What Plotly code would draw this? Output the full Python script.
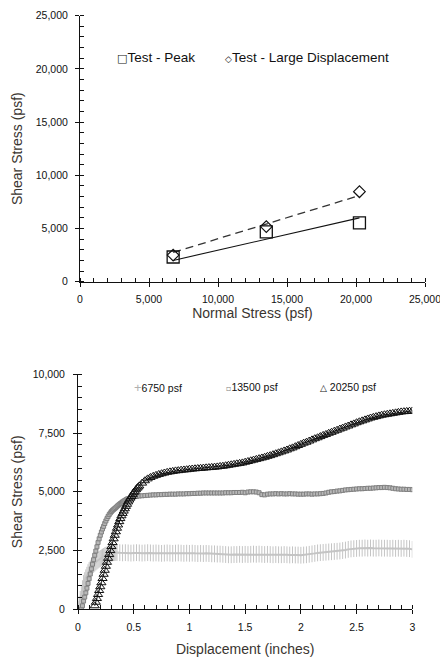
import plotly.graph_objects as go

# ---------------- Top chart data ----------------
NORMAL_STRESS = [6750, 13500, 20250]
PEAK_SHEAR = [2320, 4680, 5520]
LARGE_DISP_SHEAR = [2500, 5180, 8460]
FIT_X = [6750, 20250]
PEAK_FIT = [2000, 6000]          # fitted envelope at first/last normal stress
LARGE_DISP_FIT = [2750, 8100]

# ---------------- Bottom chart data ----------------
# coarse displacement stations (flat part of the curves)
DISP_COARSE = [
    0.375, 0.400, 0.425, 0.450, 0.475,
    0.500, 0.525, 0.550, 0.575, 0.600, 0.625, 0.650, 0.675, 0.700, 0.725,
    0.750, 0.775, 0.800, 0.825, 0.850, 0.875, 0.900, 0.925, 0.950, 0.975,
    1.000, 1.025, 1.050, 1.075, 1.100, 1.125, 1.150, 1.175, 1.200, 1.225,
    1.250, 1.275, 1.300, 1.325, 1.350, 1.375, 1.400, 1.425, 1.450, 1.475,
    1.500, 1.525, 1.550, 1.575, 1.600, 1.625, 1.650, 1.675, 1.700, 1.725,
    1.750, 1.775, 1.800, 1.825, 1.850, 1.875, 1.900, 1.925, 1.950, 1.975,
    2.000, 2.025, 2.050, 2.075, 2.100, 2.125, 2.150, 2.175, 2.200, 2.225,
    2.250, 2.275, 2.300, 2.325, 2.350, 2.375, 2.400, 2.425, 2.450, 2.475,
    2.500, 2.525, 2.550, 2.575, 2.600, 2.625, 2.650, 2.675, 2.700, 2.725,
    2.750, 2.775, 2.800, 2.825, 2.850, 2.875, 2.900, 2.925, 2.950, 2.975,
    3.000,
]

# 6750 psf
DISP_6750_RISE = [
    0.00, 0.01, 0.02, 0.03, 0.04, 0.05, 0.06, 0.07, 0.08, 0.09,
    0.10, 0.11, 0.12, 0.13, 0.14, 0.15, 0.16, 0.17, 0.18, 0.19,
    0.20, 0.21, 0.22, 0.23, 0.24, 0.25, 0.26, 0.27, 0.28, 0.29,
    0.30, 0.31, 0.32, 0.33, 0.34, 0.35,
]
SHEAR_6750_RISE = [
    0, 200, 420, 650, 880, 1100, 1220, 1340, 1450, 1560,
    1650, 1720, 1790, 1850, 1910, 1960, 2010, 2050, 2090, 2130,
    2160, 2190, 2220, 2250, 2280, 2300, 2320, 2340, 2360, 2370,
    2390, 2400, 2410, 2410, 2420, 2420,
]
SHEAR_6750_FLAT = [
    2410, 2400, 2410, 2400, 2390,
    2400, 2410, 2400, 2390, 2400, 2410, 2400, 2390, 2400, 2390,
    2380, 2390, 2400, 2390, 2380, 2390, 2400, 2390, 2380, 2390,
    2380, 2390, 2380, 2370, 2380, 2370, 2380, 2370, 2360, 2360,
    2350, 2350, 2340, 2330, 2320, 2320, 2330, 2330, 2340, 2330,
    2340, 2330, 2340, 2350, 2340, 2350, 2340, 2330, 2340, 2330,
    2320, 2330, 2320, 2320, 2330, 2320, 2310, 2320, 2310, 2310,
    2300, 2310, 2320, 2340, 2360, 2380, 2400, 2410, 2420, 2430,
    2440, 2450, 2460, 2470, 2480, 2500, 2520, 2550, 2570, 2580,
    2590, 2600, 2600, 2610, 2600, 2610, 2600, 2600, 2610, 2600,
    2600, 2600, 2590, 2600, 2590, 2600, 2590, 2600, 2590, 2580,
    2550,
]

# 13500 psf
DISP_13500_RISE = [
    0.03, 0.04, 0.05, 0.06, 0.07, 0.08, 0.09, 0.10, 0.11, 0.12,
    0.13, 0.14, 0.15, 0.16, 0.17, 0.18, 0.19, 0.20, 0.21, 0.22,
    0.23, 0.24, 0.25, 0.26, 0.27, 0.28, 0.29, 0.30, 0.31, 0.32,
    0.33, 0.34, 0.35, 0.36, 0.37, 0.38, 0.39, 0.40, 0.41, 0.42,
    0.43, 0.44, 0.45,
]
SHEAR_13500_RISE = [
    0, 150, 350, 520, 700, 900, 1100, 1300, 1500, 1720,
    1920, 2110, 2300, 2480, 2660, 2840, 3000, 3150, 3290, 3420,
    3530, 3650, 3760, 3860, 3950, 4030, 4100, 4160, 4210, 4250,
    4290, 4330, 4380, 4420, 4460, 4500, 4530, 4570, 4600, 4630,
    4660, 4690, 4700,
]
SHEAR_13500_FLAT = [   # from 0.475 in
    4740,
    4780, 4800, 4820, 4830, 4840, 4850, 4860, 4870, 4870, 4880,
    4880, 4890, 4890, 4900, 4900, 4900, 4910, 4910, 4910, 4920,
    4920, 4930, 4930, 4940, 4940, 4950, 4950, 4950, 4950, 4950,
    4950, 4950, 4950, 4960, 4960, 4960, 4970, 4970, 4970, 4980,
    4960, 4990, 5000, 5000, 4990, 4960, 4880, 4870, 4900, 4910,
    4910, 4920, 4910, 4920, 4910, 4910, 4920, 4910, 4910, 4900,
    4900, 4900, 4910, 4910, 4900, 4910, 4910, 4920, 4930, 4950,
    4980, 5000, 5010, 5030, 5040, 5060, 5080, 5090, 5100, 5110,
    5120, 5130, 5130, 5140, 5150, 5150, 5160, 5170, 5180, 5180,
    5190, 5180, 5170, 5150, 5130, 5120, 5110, 5110, 5100, 5100,
    5090,
]

# 20250 psf
DISP_20250_RISE = [
    0.15, 0.16, 0.17, 0.18, 0.19, 0.20, 0.21, 0.22, 0.23, 0.24,
    0.25, 0.26, 0.27, 0.28, 0.29, 0.30, 0.31, 0.32, 0.33, 0.34,
    0.35, 0.36, 0.37, 0.38, 0.39, 0.40, 0.41, 0.42, 0.43, 0.44,
    0.45, 0.46, 0.47, 0.48, 0.49, 0.50, 0.51, 0.52, 0.53, 0.54,
    0.55,
]
SHEAR_20250_RISE = [
    150, 300, 460, 630, 800, 960, 1130, 1310, 1490, 1660,
    1830, 2000, 2170, 2330, 2500, 2670, 2840, 3000, 3150, 3300,
    3450, 3590, 3730, 3860, 3980, 4080, 4180, 4280, 4380, 4470,
    4570, 4650, 4730, 4800, 4880, 4960, 5020, 5090, 5150, 5200,
    5250,
]
SHEAR_20250_FLAT = [   # from 0.575 in
    5370, 5470, 5550, 5610, 5660, 5700, 5740,
    5770, 5800, 5830, 5850, 5870, 5890, 5900, 5920, 5930, 5940,
    5960, 5970, 5980, 5990, 6000, 6010, 6020, 6030, 6040, 6050,
    6060, 6080, 6090, 6110, 6130, 6150, 6170, 6190, 6210, 6230,
    6260, 6290, 6320, 6350, 6380, 6410, 6440, 6470, 6510, 6540,
    6580, 6620, 6660, 6700, 6740, 6780, 6830, 6870, 6920, 6970,
    7020, 7070, 7110, 7160, 7210, 7260, 7300, 7350, 7400, 7440,
    7490, 7530, 7580, 7620, 7670, 7710, 7760, 7800, 7850, 7890,
    7940, 7980, 8020, 8060, 8100, 8140, 8170, 8200, 8230, 8260,
    8280, 8300, 8320, 8340, 8360, 8380, 8400, 8410, 8420, 8430,
    8440,
]

DISP_6750 = DISP_6750_RISE + DISP_COARSE
SHEAR_6750 = SHEAR_6750_RISE + SHEAR_6750_FLAT
DISP_13500 = DISP_13500_RISE + DISP_COARSE[4:]
SHEAR_13500 = SHEAR_13500_RISE + SHEAR_13500_FLAT
DISP_20250 = DISP_20250_RISE + DISP_COARSE[8:]
SHEAR_20250 = SHEAR_20250_RISE + SHEAR_20250_FLAT

for xs, ys in ((DISP_6750, SHEAR_6750), (DISP_13500, SHEAR_13500),
               (DISP_20250, SHEAR_20250)):
    if len(xs) != len(ys):
        raise ValueError("length mismatch %d vs %d" % (len(xs), len(ys)))

W, H = 440, 658
FONT = "Liberation Sans, Arial, sans-serif"
TICKFONT = dict(family=FONT, size=10.5, color="#111111")
TITLEFONT = dict(family=FONT, size=14, color="#3a3530")


def px_x(p):
    return p / W


def px_y(p):
    return 1 - p / H


fig = go.Figure()

# ---- top chart traces ----
fig.add_trace(go.Scatter(x=FIT_X, y=PEAK_FIT, mode="lines",
                         line=dict(color="#111111", width=1.1),
                         xaxis="x", yaxis="y", showlegend=False, hoverinfo="skip"))
fig.add_trace(go.Scatter(x=FIT_X, y=LARGE_DISP_FIT, mode="lines",
                         line=dict(color="#333333", width=1.3, dash="8px,5px"),
                         xaxis="x", yaxis="y", showlegend=False, hoverinfo="skip"))
fig.add_trace(go.Scatter(x=NORMAL_STRESS, y=PEAK_SHEAR, mode="markers", name="Test - Peak",
                         marker=dict(symbol="square-open", size=12, color="#111111",
                                     line=dict(width=1.3)),
                         xaxis="x", yaxis="y", showlegend=False))
fig.add_trace(go.Scatter(x=NORMAL_STRESS, y=LARGE_DISP_SHEAR, mode="markers",
                         name="Test - Large Displacement",
                         marker=dict(symbol="diamond-open", size=9, color="#111111",
                                     line=dict(width=1.2)),
                         xaxis="x", yaxis="y", showlegend=False))

# ---- bottom chart traces ----
fig.add_trace(go.Scatter(x=DISP_6750, y=SHEAR_6750, mode="lines+markers", name="6750 psf",
                         line=dict(color="#c4c4c4", width=2),
                         marker=dict(symbol="line-ns-open", size=12, color="#c4c4c4",
                                     line=dict(width=1, color="#c4c4c4")),
                         xaxis="x2", yaxis="y2", showlegend=False))
fig.add_trace(go.Scatter(x=DISP_13500, y=SHEAR_13500, mode="lines+markers", name="13500 psf",
                         line=dict(color="#808080", width=2.5),
                         marker=dict(symbol="square", size=4, color="#b8b8b8",
                                     line=dict(width=1, color="#808080")),
                         xaxis="x2", yaxis="y2", showlegend=False))
fig.add_trace(go.Scatter(x=DISP_20250, y=SHEAR_20250, mode="lines+markers", name="20250 psf",
                         line=dict(color="#111111", width=1),
                         marker=dict(symbol="triangle-up-open", size=8, color="#111111",
                                     line=dict(width=1)),
                         xaxis="x2", yaxis="y2", showlegend=False))

common_axis = dict(showgrid=False, zeroline=False, showline=True, linecolor="#111111",
                   linewidth=1, ticks="outside", ticklen=4, tickcolor="#111111",
                   tickwidth=1, tickfont=TICKFONT, automargin=False,
                   ticklabeloverflow="allow")

dom_x1 = [px_x(80), px_x(425)]
dom_y1 = [px_y(281.7), px_y(15.7)]
dom_x2 = [px_x(78), px_x(412.3)]
dom_y2 = [px_y(609.3), px_y(374.3)]

MINOR = dict(ticks="inside", ticklen=4, tickcolor="#111111")

fig.update_layout(
    width=W, height=H,
    margin=dict(l=0, r=0, t=0, b=0),
    paper_bgcolor="white", plot_bgcolor="white",
    font=dict(family=FONT),
    xaxis=dict(common_axis, domain=dom_x1, anchor="y", range=[0, 25000], dtick=5000,
               tickformat=",", minor=dict(MINOR, dtick=1000), ticklabelstandoff=4,
               title=dict(text="Normal Stress (psf)", font=TITLEFONT, standoff=3)),
    yaxis=dict(common_axis, domain=dom_y1, anchor="x", range=[0, 25000], dtick=5000,
               tickformat=",", minor=dict(MINOR, dtick=1000), ticklabelstandoff=5,
               title=dict(text="Shear Stress (psf)", font=TITLEFONT, standoff=9)),
    xaxis2=dict(common_axis, domain=dom_x2, anchor="y2", range=[0, 3], dtick=0.5,
                minor=dict(MINOR, dtick=0.1), ticklabelstandoff=4,
                title=dict(text="Displacement (inches)", font=TITLEFONT, standoff=12)),
    yaxis2=dict(common_axis, domain=dom_y2, anchor="x2", range=[0, 10000], dtick=2500,
                tickformat=",", minor=dict(MINOR, dtick=500), ticklabelstandoff=6,
                title=dict(text="Shear Stress (psf)", font=TITLEFONT, standoff=6)),
    # overlay axes to make major ticks cross the axis line
    xaxis3=dict(overlaying="x", anchor="y", range=[0, 25000], dtick=5000, ticks="inside",
                ticklen=4, tickcolor="#111111", showticklabels=False, showgrid=False,
                zeroline=False, showline=False),
    yaxis3=dict(overlaying="y", anchor="x", range=[0, 25000], dtick=5000, ticks="inside",
                ticklen=4, tickcolor="#111111", showticklabels=False, showgrid=False,
                zeroline=False, showline=False),
    xaxis4=dict(overlaying="x2", anchor="y2", range=[0, 3], dtick=0.5, ticks="inside",
                ticklen=5, tickcolor="#111111", showticklabels=False, showgrid=False,
                zeroline=False, showline=False),
    yaxis4=dict(overlaying="y2", anchor="x2", range=[0, 10000], dtick=2500, ticks="inside",
                ticklen=4, tickcolor="#111111", showticklabels=False, showgrid=False,
                zeroline=False, showline=False),
)

# dummy traces so overlay axes are drawn
fig.add_trace(go.Scatter(x=[None], y=[None], xaxis="x3", yaxis="y3", showlegend=False,
                         hoverinfo="skip"))
fig.add_trace(go.Scatter(x=[None], y=[None], xaxis="x4", yaxis="y4", showlegend=False,
                         hoverinfo="skip"))

# legends as text annotations
LEG1 = dict(family=FONT, size=13.5, color="#111111")
LEG2 = dict(family=FONT, size=10.5, color="#111111")
fig.add_annotation(xref="paper", yref="paper", x=px_x(115), y=px_y(58),
                   xanchor="left", yanchor="middle", showarrow=False,
                   text="<span style='font-family:DejaVu Sans;font-size:11px'>□</span>Test - Peak",
                   font=LEG1)
fig.add_annotation(xref="paper", yref="paper", x=px_x(223), y=px_y(58),
                   xanchor="left", yanchor="middle", showarrow=False,
                   text="<span style='font-family:DejaVu Sans;font-size:9px'>◇</span>Test - Large Displacement",
                   font=LEG1)
fig.add_annotation(xref="paper", yref="paper", x=px_x(132), y=px_y(387),
                   xanchor="left", yanchor="middle", showarrow=False,
                   text="<span style='color:#b0b0b0;font-size:13px'>+</span>6750 psf",
                   font=LEG2)
fig.add_annotation(xref="paper", yref="paper", x=px_x(224), y=px_y(387),
                   xanchor="left", yanchor="middle", showarrow=False,
                   text="<span style='color:#808080;font-family:DejaVu Sans;font-size:8px'>▫</span>13500 psf",
                   font=LEG2)
fig.add_annotation(xref="paper", yref="paper", x=px_x(318), y=px_y(387),
                   xanchor="left", yanchor="middle", showarrow=False,
                   text="<span style='font-family:DejaVu Sans;font-size:9px'>△</span> 20250 psf",
                   font=LEG2)

fig.write_html("out.html")
